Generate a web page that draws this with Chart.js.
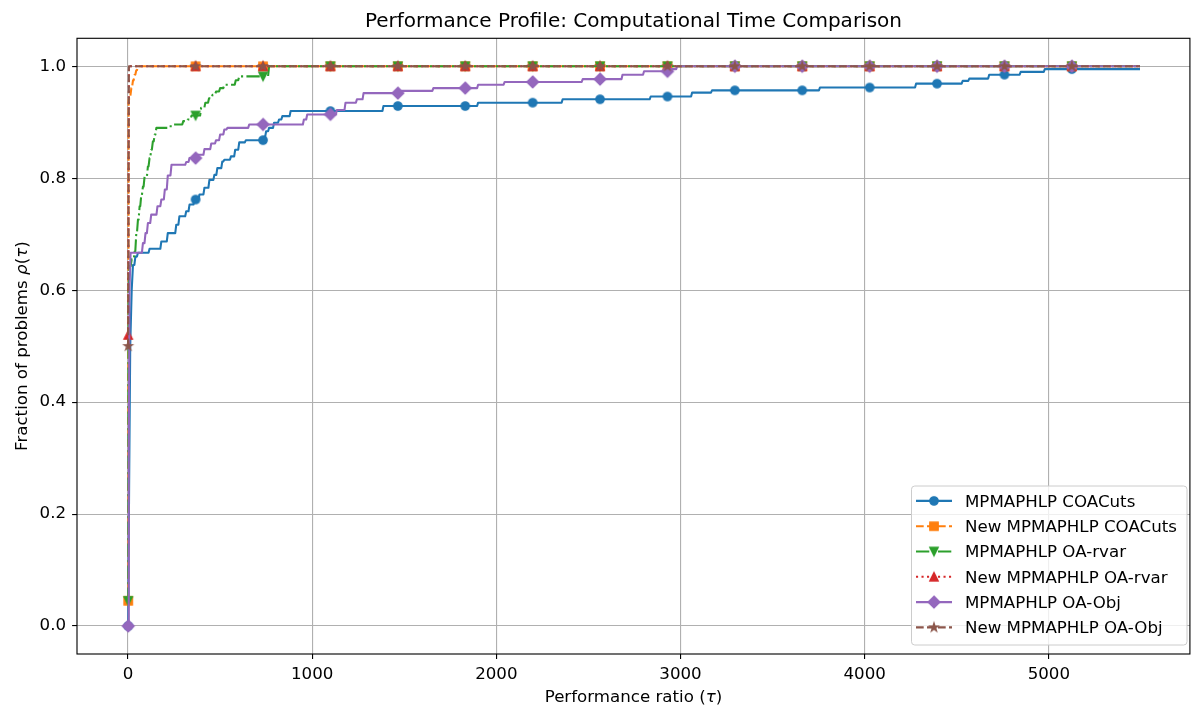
<!DOCTYPE html>
<html>
<head>
<meta charset="utf-8">
<script src="https://cdn.jsdelivr.net/npm/chart.js@4.4.1/dist/chart.umd.min.js"></script>
<style>
  html, body { margin: 0; padding: 0; background: #fff; }
</style>
</head>
<body>
<canvas id="profile" width="1197" height="710"></canvas>
<script>
// tau grid points that carry a marker (every n-th sample)
var markerTau = [1, 367, 733, 1099, 1465, 1831, 2197, 2563, 2929, 3295, 3661, 4027, 4393, 4759, 5125];
var tauEnd = 5495;
// spacing of the tau grid the profile was sampled on
var tauStep = 5.5;

var xTicks = [0, 1000, 2000, 3000, 4000, 5000];
var yTicks = [0, 0.2, 0.4, 0.6, 0.8, 1.0];

var seriesLabels = [
	'MPMAPHLP COACuts',
	'New MPMAPHLP COACuts',
	'MPMAPHLP OA-rvar',
	'New MPMAPHLP OA-rvar',
	'MPMAPHLP OA-Obj',
	'New MPMAPHLP OA-Obj'
];

// step breakpoints: from each tau on, rho holds until the next one
var coacutsTau = [1, 6, 12, 20, 27, 40, 54, 117, 181, 216, 262, 279, 316, 334, 361, 388, 415, 442, 469, 485, 512, 523, 559, 582, 604, 640, 739, 750, 766, 793, 820, 838, 883, 1387, 1901, 2360, 2838, 3063, 3171, 3757, 4279, 4532, 4568, 4676, 4847, 4978];
var coacutsRho = [0, 0.25, 0.5, 0.6, 0.645, 0.66, 0.667, 0.674, 0.687, 0.702, 0.717, 0.732, 0.741, 0.753, 0.762, 0.771, 0.783, 0.797, 0.806, 0.818, 0.830, 0.833, 0.839, 0.851, 0.864, 0.868, 0.874, 0.884, 0.890, 0.899, 0.905, 0.911, 0.920, 0.929, 0.935, 0.941, 0.946, 0.953, 0.957, 0.962, 0.969, 0.974, 0.978, 0.985, 0.990, 0.995];

var newCoacutsTau = [1, 2, 3, 10, 18, 27, 36, 45, 54];
var newCoacutsRho = [0.045, 0.5, 0.94, 0.946, 0.961, 0.975, 0.985, 0.993, 1.0];

var rvarTau = [1, 3, 9, 20, 36, 45, 54, 63, 72, 81, 90, 108, 117, 126, 135, 145, 154, 225, 243, 300, 324, 345, 397, 420, 440, 459, 478, 500, 523, 585, 604, 766];
var rvarRho = [0.045, 0.6, 0.643, 0.655, 0.669, 0.702, 0.726, 0.750, 0.770, 0.785, 0.803, 0.821, 0.836, 0.851, 0.866, 0.878, 0.890, 0.893, 0.896, 0.902, 0.905, 0.912, 0.926, 0.935, 0.943, 0.949, 0.955, 0.961, 0.967, 0.975, 0.982, 1.0];

var newRvarTau = [1, 3, 5];
var newRvarRho = [0.52, 0.8, 1.0];

var objTau = [1, 4, 8, 14, 81, 95, 108, 126, 160, 181, 200, 216, 236, 316, 334, 377, 415, 452, 478, 500, 523, 540, 658, 955, 973, 1134, 1181, 1243, 1279, 1486, 1658, 1901, 2045, 2469, 2685, 2802, 2935, 2982];
var objRho = [0, 0.3, 0.6, 0.667, 0.684, 0.702, 0.720, 0.735, 0.750, 0.762, 0.780, 0.805, 0.824, 0.829, 0.836, 0.842, 0.852, 0.862, 0.868, 0.878, 0.887, 0.890, 0.896, 0.905, 0.914, 0.922, 0.935, 0.941, 0.952, 0.956, 0.961, 0.967, 0.972, 0.977, 0.985, 0.991, 0.995, 1.0];

var newObjTau = [1, 3, 5];
var newObjRho = [0.50, 0.8, 1.0];

var seriesTau = [coacutsTau, newCoacutsTau, rvarTau, newRvarTau, objTau, newObjTau];
var seriesRho = [coacutsRho, newCoacutsRho, rvarRho, newRvarRho, objRho, newObjRho];

// look
var colors = ['#1f77b4', '#ff7f0e', '#2ca02c', '#d62728', '#9467bd', '#8c564b'];
var markers = ['o', 's', 'v', '^', 'D', '*'];
var dashes = [[], [7.7, 3.3], [13.3, 3.3, 2.1, 3.3], [2.1, 3.4], [], [7.7, 3.3]];
var lineW = 2.08;
var fontFamily = '"DejaVu Sans"';

function markerImage(shape, color) {
	var c = document.createElement('canvas');
	c.width = 20; c.height = 20;
	var g = c.getContext('2d');
	var s = 8.33 / 2;
	g.translate(10, 10);
	g.beginPath();
	if (shape === 'o') {
		g.arc(0, 0, s, 0, Math.PI * 2);
	} else if (shape === 's') {
		g.rect(-s, -s, 2 * s, 2 * s);
	} else if (shape === '^') {
		g.moveTo(0, -s); g.lineTo(-s, s); g.lineTo(s, s); g.closePath();
	} else if (shape === 'v') {
		g.moveTo(0, s); g.lineTo(-s, -s); g.lineTo(s, -s); g.closePath();
	} else if (shape === 'D') {
		var d = s * Math.SQRT2;
		g.moveTo(0, -d); g.lineTo(d, 0); g.lineTo(0, d); g.lineTo(-d, 0); g.closePath();
	} else if (shape === '*') {
		for (var k = 0; k < 10; k++) {
			var r = k % 2 ? s * 0.381966 : s;
			var a = -Math.PI / 2 + k * Math.PI / 5;
			if (k === 0) g.moveTo(r * Math.cos(a), r * Math.sin(a));
			else g.lineTo(r * Math.cos(a), r * Math.sin(a));
		}
		g.closePath();
	}
	g.fillStyle = color;
	g.fill();
	g.lineWidth = 1.39;
	g.lineJoin = 'miter';
	g.strokeStyle = color;
	g.stroke();
	return c;
}

// value of a step profile at tau
function rhoAt(tau, rho, t) {
	var k = 0;
	while (k + 1 < tau.length && tau[k + 1] <= t) k++;
	return rho[k];
}

// polyline through the profile: each rise spans one grid step, as in the sampled curve
function profilePoints(tau, rho) {
	var pts = [];
	tau.forEach(function(t, i) {
		if (i > 0) {
			var pre = t - tauStep;
			if (pre > tau[i - 1]) pts.push({ x: pre, y: rho[i - 1], mark: false });
		}
		pts.push({ x: t, y: rho[i], mark: false });
	});
	pts.push({ x: tauEnd, y: rho[rho.length - 1], mark: false });
	markerTau.forEach(function(m) {
		var same = pts.filter(function(p) { return p.x === m; })[0];
		if (same) same.mark = true;
		else pts.push({ x: m, y: rhoAt(tau, rho, m), mark: true });
	});
	pts.sort(function(a, b) { return a.x - b.x; });
	return pts;
}

var markerImgs = markers.map(function(m, i) { return markerImage(m, colors[i]); });

var datasets = seriesLabels.map(function(label, i) {
	return {
		label: label,
		data: profilePoints(seriesTau[i], seriesRho[i]),
		fill: false,
		tension: 0,
		borderColor: colors[i],
		backgroundColor: colors[i],
		borderWidth: lineW,
		borderDash: dashes[i],
		borderJoinStyle: 'round',
		pointStyle: markerImgs[i],
		pointRadius: function(ctx) { return ctx.raw && ctx.raw.mark ? 5 : 0; },
		pointHoverRadius: function(ctx) { return ctx.raw && ctx.raw.mark ? 5 : 0; },
		order: seriesLabels.length - 1 - i
	};
});

function drawRich(ctx, parts, x, y, align) {
	var size = 16.67;
	var total = 0;
	parts.forEach(function(p) {
		ctx.font = (p[1] ? 'italic ' : '') + size + 'px ' + fontFamily;
		total += ctx.measureText(p[0]).width;
	});
	var cx = align === 'center' ? x - total / 2 : x;
	ctx.textAlign = 'left';
	ctx.textBaseline = 'alphabetic';
	parts.forEach(function(p) {
		ctx.font = (p[1] ? 'italic ' : '') + size + 'px ' + fontFamily;
		ctx.fillText(p[0], cx, y);
		cx += ctx.measureText(p[0]).width;
	});
}

var decorations = {
	id: 'decorations',
	afterDraw: function(chart) {
		var ctx = chart.ctx;
		var a = chart.chartArea;
		ctx.save();
		ctx.fillStyle = '#000';

		// title
		ctx.font = '20px ' + fontFamily;
		ctx.textAlign = 'center';
		ctx.textBaseline = 'alphabetic';
		ctx.fillText('Performance Profile: Computational Time Comparison', (a.left + a.right) / 2, 27);

		// axis labels
		drawRich(ctx, [['Performance ratio ', false], ['(', false], ['\u03c4', true], [')', false]], (a.left + a.right) / 2, 702, 'center');
		ctx.save();
		ctx.translate(27, (a.top + a.bottom) / 2);
		ctx.rotate(-Math.PI / 2);
		drawRich(ctx, [['Fraction of problems ', false], ['\u03c1', true], ['(', false], ['\u03c4', true], [')', false]], 0, 0, 'center');
		ctx.restore();

		// frame
		ctx.strokeStyle = '#000';
		ctx.lineWidth = 1.11;
		ctx.strokeRect(a.left, a.top, a.right - a.left, a.bottom - a.top);

		// legend
		var bx = 911.5, by = 486, bw = 275.5, bh = 159, br = 3.3;
		ctx.beginPath();
		ctx.moveTo(bx + br, by);
		ctx.arcTo(bx + bw, by, bx + bw, by + bh, br);
		ctx.arcTo(bx + bw, by + bh, bx, by + bh, br);
		ctx.arcTo(bx, by + bh, bx, by, br);
		ctx.arcTo(bx, by, bx + bw, by, br);
		ctx.closePath();
		ctx.fillStyle = 'rgba(255,255,255,0.8)';
		ctx.fill();
		ctx.strokeStyle = '#cccccc';
		ctx.lineWidth = 1;
		ctx.stroke();

		seriesLabels.forEach(function(label, i) {
			var cy = 500.9 + i * 25.3;
			ctx.beginPath();
			ctx.setLineDash(dashes[i]);
			ctx.strokeStyle = colors[i];
			ctx.lineWidth = lineW;
			ctx.moveTo(916, cy);
			ctx.lineTo(952, cy);
			ctx.stroke();
			ctx.setLineDash([]);
			var img = markerImgs[i];
			ctx.drawImage(img, 934 - img.width / 2, cy - img.height / 2);
			ctx.fillStyle = '#000';
			ctx.font = '16.67px ' + fontFamily;
			ctx.textAlign = 'left';
			ctx.textBaseline = 'alphabetic';
			ctx.fillText(label, 965, cy + 5.9);
		});
		ctx.restore();
	}
};

var tickFont = { family: fontFamily, size: 16.67 };

new Chart(document.getElementById('profile'), {
	type: 'line',
	data: { datasets: datasets },
	options: {
		responsive: false,
		animation: false,
		devicePixelRatio: 1,
		events: [],
		layout: { padding: { left: 0, top: 38.3, right: 2, bottom: 0 } },
		plugins: {
			legend: { display: false },
			tooltip: { enabled: false },
			title: { display: false }
		},
		scales: {
			x: {
				type: 'linear',
				min: -277,
				max: 5766,
				afterBuildTicks: function(scale) {
					scale.ticks = xTicks.map(function(v) { return { value: v }; });
				},
				afterFit: function(scale) { scale.height = 56; },
				border: { display: false },
				grid: { color: '#b0b0b0', lineWidth: 1.11, tickColor: '#000', tickWidth: 1.11, tickLength: 4.9 },
				ticks: {
					color: '#000',
					font: tickFont,
					padding: 6,
					maxRotation: 0,
					callback: function(v) { return String(v); }
				}
			},
			y: {
				type: 'linear',
				min: -0.05,
				max: 1.05,
				afterBuildTicks: function(scale) {
					scale.ticks = yTicks.map(function(v) { return { value: v }; });
				},
				afterFit: function(scale) { scale.width = 77; },
				border: { display: false },
				grid: { color: '#b0b0b0', lineWidth: 1.11, tickColor: '#000', tickWidth: 1.11, tickLength: 4.9 },
				ticks: {
					color: '#000',
					font: tickFont,
					padding: 6,
					callback: function(v) { return v.toFixed(1); }
				}
			}
		}
	},
	plugins: [decorations]
});
</script>
</body>
</html>
